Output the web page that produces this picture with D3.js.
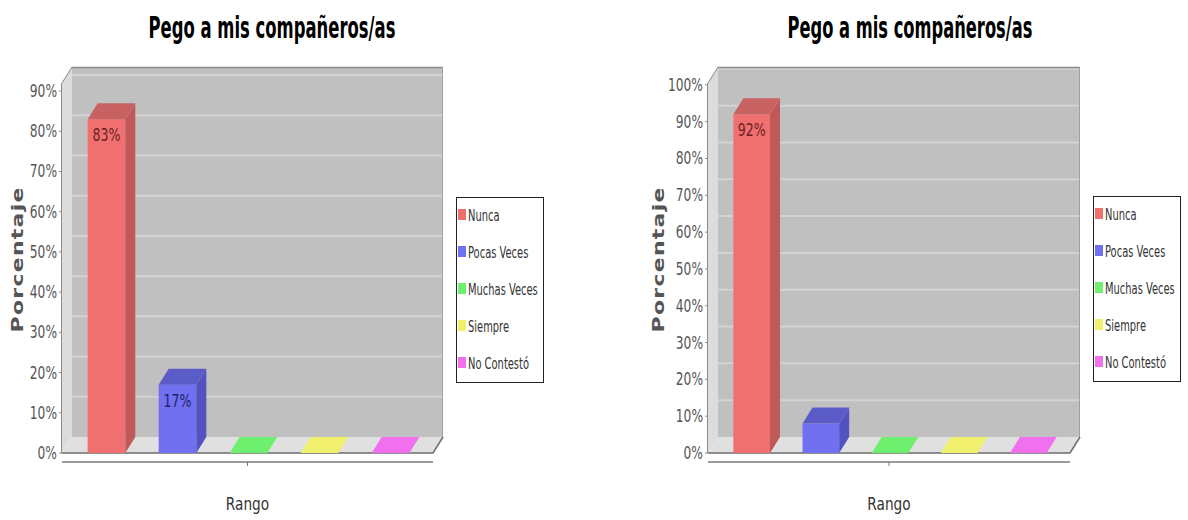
<!DOCTYPE html>
<html>
<head>
<meta charset="utf-8">
<script src="https://cdn.jsdelivr.net/npm/d3@7"></script>
<style>
  html, body { margin: 0; padding: 0; background: #ffffff; }
  svg { display: block; }
  text { font-family: "DejaVu Sans", sans-serif; }
</style>
</head>
<body>
<svg id="chart" width="1188" height="520"></svg>
<script>
// ---- data ----
const categories = ["Nunca", "Pocas Veces", "Muchas Veces", "Siempre", "No Contestó"];
const leftValues = [83, 17, 0, 0, 0];
const rightValues = [92, 8, 0, 0, 0];
const leftTicks = [0, 10, 20, 30, 40, 50, 60, 70, 80, 90];
const rightTicks = [0, 10, 20, 30, 40, 50, 60, 70, 80, 90, 100];
const titleText = "Pego a mis compañeros/as";
const yAxisTitle = "Porcentaje";
const xAxisTitle = "Rango";
const domainLabel = ["Rango"];

// ---- styles ----
const faceColors = ["#f07070", "#7070f0", "#6ef06e", "#f0f06e", "#f070f0"];
const sideColors = ["#c05a5a", "#5252c0", "#50c050", "#c0c050", "#c050c0"];
const topColors  = ["#c86262", "#5c5cc8", "#58c858", "#c8c858", "#c858c8"];
const labelColors = ["#6a2222", "#22226a", "#226a22", "#6a6a22", "#6a226a"];

const svg = d3.select("#chart");
const DX = 10, DY = 16;

function sqText(g, x, y, str, size, sx, anchor, opts = {}) {
  return g.append("text")
    .attr("transform", `translate(${x},${y}) scale(${sx},1)`)
    .attr("text-anchor", anchor)
    .attr("font-size", size)
    .attr("font-weight", opts.weight || "normal")
    .attr("fill", opts.fill || "#333")
    .text(str);
}

function drawChart(cfg, values, ticks) {
  const g = svg.append("g");
  const { x0, x1, yTop, bottom, yMax } = cfg;

  const y = d3.scaleLinear().domain([0, yMax]).range([bottom, yTop]);
  const x = d3.scaleBand().domain(categories)
    .range([x0 + 15, x1 - 13]).paddingInner(0.47).paddingOuter(0.15);
  const color = d3.scaleOrdinal().domain(categories).range(faceColors);
  const side = d3.scaleOrdinal().domain(categories).range(sideColors);
  const top = d3.scaleOrdinal().domain(categories).range(topColors);
  const lab = d3.scaleOrdinal().domain(categories).range(labelColors);

  // title (squeezed horizontally to the reference width)
  const tt = g.append("text")
    .attr("text-anchor", "middle")
    .attr("font-size", 31).attr("font-weight", "bold").attr("fill", "#000")
    .text(titleText);
  const natural = tt.node().getComputedTextLength();
  tt.attr("transform", `translate(${cfg.titleX},38) scale(${cfg.titleW / natural},1)`);

  // back wall
  g.append("rect")
    .attr("x", x0 + DX).attr("y", yTop - DY)
    .attr("width", x1 - x0).attr("height", bottom - yTop)
    .attr("fill", "#c0c0c0");
  // left wall
  g.append("polygon")
    .attr("points", [[x0, yTop], [x0 + DX, yTop - DY], [x0 + DX, bottom - DY], [x0, bottom]].join(" "))
    .attr("fill", "#dcdcdc");
  // floor
  g.append("polygon")
    .attr("points", [[x0, bottom], [x0 + DX, bottom - DY], [x1 + DX, bottom - DY], [x1, bottom]].join(" "))
    .attr("fill", "#e0e0e0");

  // gridlines on back wall
  g.selectAll(".grid").data(ticks.filter(t => t > 0)).enter().append("line")
    .attr("x1", x0 + DX).attr("x2", x1 + DX)
    .attr("y1", d => y(d) - DY).attr("y2", d => y(d) - DY)
    .attr("stroke", "#d3d3d3").attr("stroke-width", 2);

  // wall outlines
  g.append("line").attr("x1", x0 + DX).attr("x2", x1 + DX)
    .attr("y1", yTop - DY + 0.5).attr("y2", yTop - DY + 0.5)
    .attr("stroke", "#8a8a8a").attr("stroke-width", 1.5);
  g.append("line").attr("x1", x1 + DX - 0.5).attr("x2", x1 + DX - 0.5)
    .attr("y1", yTop - DY).attr("y2", bottom - DY)
    .attr("stroke", "#a0a0a0").attr("stroke-width", 1);
  g.append("polyline")
    .attr("points", [[x0, yTop], [x0 + DX, yTop - DY]].join(" "))
    .attr("fill", "none").attr("stroke", "#8a8a8a").attr("stroke-width", 1);
  g.append("polyline")
    .attr("points", [[x0, bottom], [x1, bottom], [x1 + DX, bottom - DY]].join(" "))
    .attr("fill", "none").attr("stroke", "#6e6e6e").attr("stroke-width", 1.5);

  // bars
  const bw = x.bandwidth();
  const bars = g.selectAll(".bar").data(categories.map((c, i) => ({ c, v: values[i] })))
    .enter().append("g");
  bars.each(function (d) {
    const b = d3.select(this);
    const bx = x(d.c), ty = y(d.v), by = y(0);
    if (d.v > 0) {
      b.append("rect").attr("x", bx).attr("y", ty).attr("width", bw).attr("height", by - ty)
        .attr("fill", color(d.c));
      b.append("polygon")
        .attr("points", [[bx + bw, ty], [bx + bw + DX, ty - DY], [bx + bw + DX, by - DY], [bx + bw, by]].join(" "))
        .attr("fill", side(d.c));
      b.append("polygon")
        .attr("points", [[bx, ty], [bx + DX, ty - DY], [bx + bw + DX, ty - DY], [bx + bw, ty]].join(" "))
        .attr("fill", top(d.c));
      if (by - ty > 40) {
        sqText(b, bx + bw / 2, ty + 22, d.v + "%", 17, 0.74, "middle", { fill: lab(d.c) });
      }
    } else {
      b.append("polygon")
        .attr("points", [[bx, ty], [bx + DX, ty - DY], [bx + bw + DX, ty - DY], [bx + bw, ty]].join(" "))
        .attr("fill", color(d.c));
    }
  });

  // value axis
  g.append("line").attr("x1", x0 - 0.5).attr("x2", x0 - 0.5)
    .attr("y1", yTop).attr("y2", bottom)
    .attr("stroke", "#8a8a8a").attr("stroke-width", 1);
  ticks.forEach(t => {
    g.append("line").attr("x1", x0 - 3).attr("x2", x0).attr("y1", y(t)).attr("y2", y(t))
      .attr("stroke", "#8a8a8a");
    sqText(g, x0 - 5, y(t) + 6, t + "%", 17, 0.72, "end", { fill: "#555" });
  });

  // y axis title
  g.append("text")
    .attr("transform", `translate(${cfg.ylabX},260) rotate(-90) scale(1,0.72)`)
    .attr("text-anchor", "middle")
    .attr("font-size", 22).attr("font-weight", "bold").attr("fill", "#555")
    .attr("textLength", 145).attr("lengthAdjust", "spacing")
    .text(yAxisTitle);

  // domain axis
  const dx = d3.scalePoint().domain(domainLabel).range([x0, x1]).padding(0.5);
  g.append("line").attr("x1", x0).attr("x2", x1).attr("y1", bottom + 9).attr("y2", bottom + 9)
    .attr("stroke", "#7a7a7a").attr("stroke-width", 1.5);
  g.append("line").attr("x1", dx("Rango")).attr("x2", dx("Rango"))
    .attr("y1", bottom + 9).attr("y2", bottom + 13).attr("stroke", "#7a7a7a");
  sqText(g, dx("Rango"), 510, xAxisTitle, 18, 0.76, "middle", { fill: "#333" });

  // legend
  const lg = g.append("g");
  lg.append("rect").attr("x", cfg.legX + 0.5).attr("y", cfg.legY + 0.5)
    .attr("width", 87).attr("height", 185)
    .attr("fill", "#fff").attr("stroke", "#222").attr("stroke-width", 1);
  const ly = d3.scalePoint().domain(categories).range([cfg.legY + 18, cfg.legY + 166]);
  categories.forEach(c => {
    lg.append("rect").attr("x", cfg.legX + 2).attr("y", ly(c) - 6).attr("width", 8).attr("height", 11)
      .attr("fill", color(c));
    sqText(lg, cfg.legX + 12, ly(c) + 6, c, 16, 0.62, "start", { fill: "#333" });
  });
}

drawChart({ x0: 62, x1: 433, yTop: 83, bottom: 453, yMax: 92, titleX: 272, titleW: 247,
            legX: 456, legY: 197, ylabX: 23 }, leftValues, leftTicks);
drawChart({ x0: 708, x1: 1070, yTop: 83, bottom: 453, yMax: 100.5, titleX: 910, titleW: 245,
            legX: 1093, legY: 196, ylabX: 664 }, rightValues, rightTicks);
</script>
</body>
</html>
